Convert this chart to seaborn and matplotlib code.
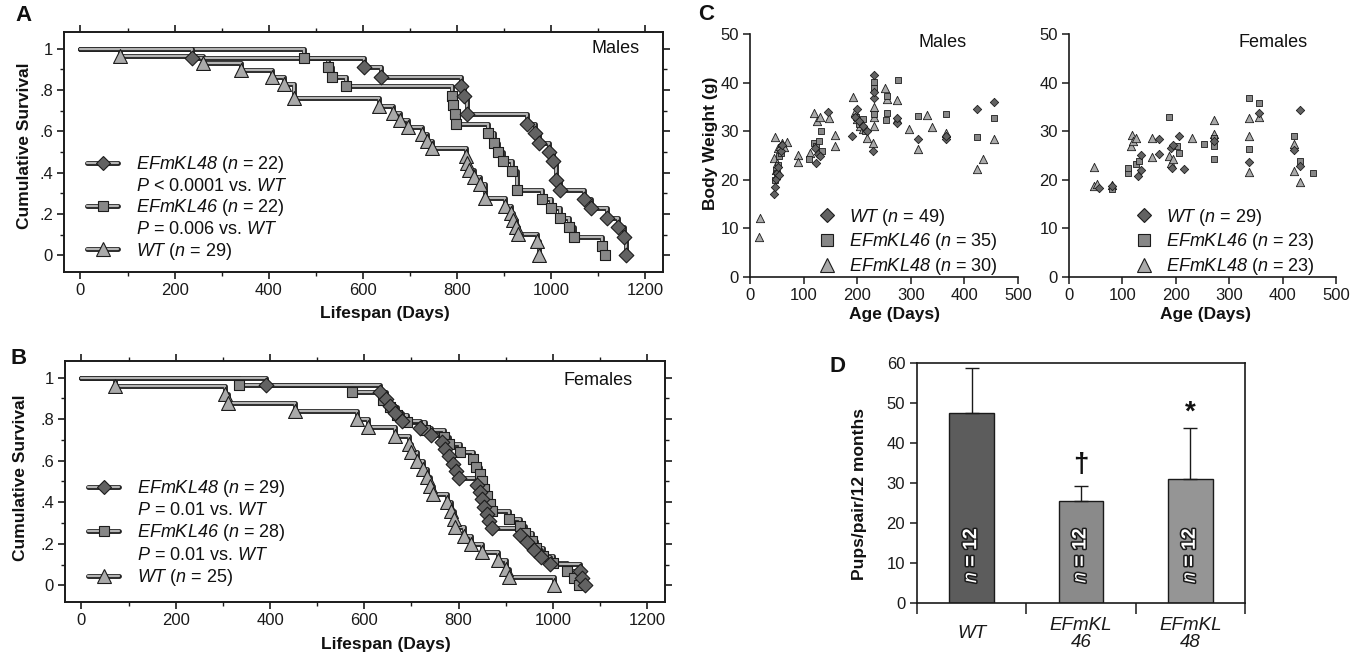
import matplotlib
matplotlib.use('Agg')
import matplotlib.pyplot as plt
import matplotlib.patheffects as pe
from matplotlib.lines import Line2D
from matplotlib.ticker import MultipleLocator, FuncFormatter
from matplotlib import font_manager
import pandas as pd
import seaborn as sns

# ---- A: males, Kaplan-Meier (death day, survival after the drop)
a_kl48_t = [237, 602, 638, 808, 815, 822, 950, 965, 975, 995, 1005, 1010, 1020, 1070, 1086, 1120, 1143, 1156, 1160]
a_kl48_s = [.955, .909, .864, .818, .773, .682, .636, .591, .545, .500, .455, .364, .318, .273, .227, .182, .136, .091, 0]
a_kl46_t = [475, 527, 535, 565, 789, 792, 795, 799, 866, 878, 887, 898, 917, 928, 980, 1001, 1020, 1039, 1048, 1108, 1115]
a_kl46_s = [.955, .909, .864, .818, .773, .727, .682, .636, .591, .545, .500, .455, .409, .318, .273, .227, .182, .136, .091, .045, 0]
a_wt_t = [85, 261, 342, 408, 432, 453, 634, 664, 678, 695, 725, 737, 747, 820, 822, 826, 836, 849, 859, 902, 915, 920, 925, 930, 970, 975]
a_wt_s = [.966, .931, .897, .862, .828, .759, .724, .690, .655, .621, .586, .552, .517, .483, .448, .414, .379, .345, .276, .241, .207, .172, .138, .103, .069, 0]

# ---- B: females
b_kl48_t = [392, 634, 645, 655, 665, 680, 718, 742, 764, 772, 780, 788, 795, 800, 840, 845, 850, 855, 860, 865, 870, 930, 945, 960, 975, 995, 1058, 1062, 1068]
b_kl48_s = [.966, .931, .897, .862, .828, .793, .759, .724, .690, .655, .621, .586, .552, .517, .483, .448, .414, .379, .345, .310, .276, .241, .207, .172, .138, .103, .069, .034, 0]
b_kl46_t = [335, 573, 640, 655, 670, 690, 728, 770, 780, 803, 831, 838, 845, 850, 855, 860, 866, 870, 906, 930, 940, 955, 965, 980, 1000, 1030, 1045, 1055]
b_kl46_s = [.964, .929, .893, .857, .821, .786, .750, .714, .679, .643, .607, .571, .536, .500, .464, .429, .393, .357, .321, .286, .250, .214, .179, .143, .107, .071, .036, 0]
b_wt_t = [71, 305, 310, 452, 584, 608, 665, 695, 700, 712, 725, 732, 740, 746, 775, 785, 790, 792, 811, 826, 849, 883, 901, 906, 1003]
b_wt_s = [.96, .92, .88, .84, .80, .76, .72, .68, .64, .60, .56, .52, .48, .44, .40, .36, .32, .28, .24, .20, .16, .12, .08, .04, 0]

# ---- C: body weight vs age
cm_wt_age = [45, 47, 49, 50, 52, 54, 57, 60, 121, 124, 127, 130, 146, 190, 196, 200, 204, 210, 218, 229, 232, 232, 232, 275, 275, 313, 366, 366, 423, 455]
cm_wt_g = [17.0, 18.6, 20.2, 21.4, 22.6, 21.0, 26.0, 27.2, 26.5, 23.4, 25.4, 24.8, 34.0, 29.0, 33.0, 34.5, 32.0, 31.0, 30.0, 26.0, 41.5, 36.8, 38.0, 31.6, 32.8, 28.4, 28.3, 29.0, 34.6, 36.0]
cm_46_age = [46, 48, 50, 53, 55, 58, 110, 120, 124, 128, 132, 135, 198, 204, 210, 215, 232, 232, 232, 255, 255, 254, 276, 313, 366, 423, 455]
cm_46_g = [20.0, 22.0, 21.5, 23.0, 25.0, 25.5, 24.3, 27.5, 27.0, 28.0, 30.0, 26.0, 33.0, 31.5, 32.5, 30.0, 40.2, 38.8, 33.5, 37.3, 33.8, 32.3, 40.5, 33.2, 33.6, 28.9, 32.7]
cm_48_age = [19, 16, 44, 47, 48, 51, 53, 56, 60, 64, 69, 89, 89, 111, 120, 125, 130, 147, 158, 158, 192, 195, 200, 205, 210, 218, 229, 232, 232, 232, 252, 255, 275, 275, 296, 313, 330, 339, 366, 423, 435, 455]
cm_48_g = [12.1, 8.2, 24.5, 28.8, 22.0, 23.5, 26.5, 27.0, 27.5, 26.8, 27.8, 25.1, 23.7, 25.6, 33.8, 32.0, 33.0, 32.7, 29.3, 26.9, 37.1, 34.0, 32.5, 31.0, 30.5, 28.5, 27.6, 33.0, 31.0, 35.0, 38.9, 36.6, 36.4, 32.6, 30.5, 26.3, 33.3, 30.8, 29.7, 22.2, 24.3, 28.4]
cf_wt_age = [56, 80, 129, 135, 135, 169, 169, 191, 193, 195, 206, 216, 272, 337, 356, 421, 433, 433]
cf_wt_g = [18.4, 18.8, 20.8, 22.0, 25.2, 25.4, 28.3, 26.6, 22.5, 27.2, 29.0, 22.3, 27.9, 23.7, 33.7, 26.2, 34.4, 22.8]
cf_46_age = [80, 110, 111, 125, 131, 188, 203, 206, 252, 272, 272, 272, 337, 337, 356, 421, 433, 456]
cf_46_g = [18.1, 21.5, 22.5, 23.2, 23.9, 33.0, 26.9, 25.6, 27.3, 26.9, 24.2, 28.5, 36.9, 26.4, 35.7, 29.0, 23.9, 21.3]
cf_48_age = [46, 46, 53, 80, 116, 118, 120, 125, 155, 155, 188, 191, 194, 230, 272, 272, 337, 337, 337, 356, 421, 421, 433]
cf_48_g = [22.7, 18.8, 19.1, 19.0, 26.9, 29.3, 28.0, 28.6, 24.7, 28.6, 24.9, 23.5, 24.2, 28.5, 32.3, 29.5, 32.8, 29.0, 21.7, 33.0, 27.3, 21.8, 19.5]

# ---- D: pups per pair
d_groups = ['WT', 'EFmKL46', 'EFmKL48']
d_labels = ['WT', 'EFmKL\n46', 'EFmKL\n48']
d_mean = [47.4, 25.6, 31.0]
d_err = [11.3, 3.6, 12.7]
d_marks = ['', '\u2020', '*']
d_mark_y = [0, 34.5, 47.5]

sns.set_theme(style='ticks')
installed = {f.name for f in font_manager.fontManager.ttflist}
NARROW = 'Liberation Sans Narrow' if 'Liberation Sans Narrow' in installed else 'Liberation Sans'
REG = ['Liberation Sans', 'DejaVu Sans']
plt.rcParams['font.family'] = [NARROW, 'DejaVu Sans']
plt.rcParams.update({
    'mathtext.fontset': 'custom', 'mathtext.rm': NARROW,
    'mathtext.it': NARROW + ':italic', 'mathtext.bf': NARROW + ':bold',
    'mathtext.sf': NARROW + ':italic',
    'axes.edgecolor': '#1a1a1a', 'xtick.color': '#1a1a1a', 'ytick.color': '#1a1a1a',
    'text.color': '#111111', 'axes.labelcolor': '#111111',
})

LINE_FILL = '#b4b4b4'
LINE_EDGE = '#222222'
EDGE = '#1c1c1c'
C_DIA = '#626262'
C_SQ = '#878787'
C_TRI = '#aaaaaa'
KM_PE = [pe.Stroke(linewidth=3.5, foreground=LINE_EDGE), pe.Normal()]


def it(s):
    # italic run (digits too) through the sans-serif mathtext slot
    return r'$\mathsf{%s}$' % s


def km_curve(ax, t, s, marker, color, size):
    sns.lineplot(x=[0] + t, y=[1.0] + s, ax=ax, estimator=None, sort=False,
                 drawstyle='steps-post', color=LINE_FILL, linewidth=1.6,
                 path_effects=KM_PE, zorder=2)
    sns.scatterplot(x=t, y=s, ax=ax, marker=marker, color=color, edgecolor=EDGE,
                    linewidth=0.8, s=size, zorder=3)


def surv_fmt(v, pos):
    if abs(v) < 1e-9:
        return '0'
    if abs(v - 1) < 1e-9:
        return '1'
    return f'{v:.1f}'.lstrip('0')


def km_handle(marker, color, ms):
    ln = Line2D([], [], color=LINE_FILL, lw=1.6, path_effects=KM_PE)
    mk = Line2D([], [], ls='none', marker=marker, markersize=ms, markerfacecolor=color,
                markeredgecolor=EDGE, markeredgewidth=0.8)
    return (ln, mk)


def style_km(ax, ylab_x, ylab_y, xlab_y):
    ax.set_xlim(-35, 1238)
    ax.set_ylim(-0.08, 1.08)
    ax.xaxis.set_major_locator(MultipleLocator(200))
    ax.xaxis.set_minor_locator(MultipleLocator(100))
    ax.yaxis.set_major_locator(MultipleLocator(0.2))
    ax.yaxis.set_minor_locator(MultipleLocator(0.1))
    ax.yaxis.set_major_formatter(FuncFormatter(surv_fmt))
    ax.tick_params(which='both', direction='out', top=True, right=True)
    ax.tick_params(which='major', length=5, width=1.2, labelsize=12, pad=3)
    ax.tick_params(which='minor', length=3, width=1.0)
    for sp in ax.spines.values():
        sp.set_linewidth(1.4)
    ax.set_xlabel('Lifespan (Days)', fontsize=12.5, fontweight='bold', family=REG, va='center')
    ax.set_ylabel('Cumulative Survival', fontsize=12.5, fontweight='bold', family=REG, va='center')
    ax.xaxis.set_label_coords(0.535, xlab_y)
    ax.yaxis.set_label_coords(ylab_x, ylab_y)


fig = plt.figure(figsize=(13.63, 6.55), dpi=100)
fig.patch.set_facecolor('white')

blank = Line2D([], [], ls='none')

# ---------------- A
axA = fig.add_axes([0.04696, 0.58473, 0.43947, 0.36641])
km_curve(axA, a_wt_t, a_wt_s, '^', C_TRI, 100)
km_curve(axA, a_kl46_t, a_kl46_s, 's', C_SQ, 48)
km_curve(axA, a_kl48_t, a_kl48_s, 'D', C_DIA, 56)
style_km(axA, -0.066, 0.525, -0.171)
axA.text(0.92, 0.93, 'Males', transform=axA.transAxes, ha='center', va='center',
         fontsize=13, family=REG)
axA.legend([km_handle('D', C_DIA, 7.5), blank, km_handle('s', C_SQ, 7), blank, km_handle('^', C_TRI, 10)],
           [it('EFmKL48') + ' (' + it('n') + ' = 22)', it('P') + ' < 0.0001 vs. ' + it('WT'),
            it('EFmKL46') + ' (' + it('n') + ' = 22)', it('P') + ' = 0.006 vs. ' + it('WT'),
            it('WT') + ' (' + it('n') + ' = 29)'],
           loc='upper left', bbox_to_anchor=(0.038, 0.49), frameon=False, fontsize=13,
           handlelength=1.75, handletextpad=1.0, labelspacing=0.14, borderpad=0, borderaxespad=0)

# ---------------- B
axB = fig.add_axes([0.04769, 0.08092, 0.44021, 0.36794])
km_curve(axB, b_wt_t, b_wt_s, '^', C_TRI, 100)
km_curve(axB, b_kl46_t, b_kl46_s, 's', C_SQ, 48)
km_curve(axB, b_kl48_t, b_kl48_s, 'D', C_DIA, 56)
style_km(axB, -0.075, 0.517, -0.178)
axB.text(0.888, 0.917, 'Females', transform=axB.transAxes, ha='center', va='center',
         fontsize=13, family=REG)
axB.legend([km_handle('D', C_DIA, 7.5), blank, km_handle('s', C_SQ, 7), blank, km_handle('^', C_TRI, 10)],
           [it('EFmKL48') + ' (' + it('n') + ' = 29)', it('P') + ' = 0.01 vs. ' + it('WT'),
            it('EFmKL46') + ' (' + it('n') + ' = 28)', it('P') + ' = 0.01 vs. ' + it('WT'),
            it('WT') + ' (' + it('n') + ' = 25)'],
           loc='upper left', bbox_to_anchor=(0.038, 0.515), frameon=False, fontsize=13,
           handlelength=1.75, handletextpad=1.0, labelspacing=0.18, borderpad=0, borderaxespad=0)


# ---------------- C
def weight_panel(ax, wt, k46, k48, ns, title, legx, xlab_x, ylabel):
    sns.scatterplot(x=k48[0], y=k48[1], ax=ax, marker='^', color=C_TRI, edgecolor=EDGE,
                    linewidth=0.6, s=36, zorder=3)
    sns.scatterplot(x=k46[0], y=k46[1], ax=ax, marker='s', color=C_SQ, edgecolor=EDGE,
                    linewidth=0.6, s=14, zorder=3)
    sns.scatterplot(x=wt[0], y=wt[1], ax=ax, marker='D', color=C_DIA, edgecolor=EDGE,
                    linewidth=0.6, s=18, zorder=3)
    ax.set_xlim(0, 500)
    ax.set_ylim(0, 50)
    ax.xaxis.set_major_locator(MultipleLocator(100))
    ax.yaxis.set_major_locator(MultipleLocator(10))
    sns.despine(ax=ax)
    for sp in ('left', 'bottom'):
        ax.spines[sp].set_linewidth(1.2)
    ax.tick_params(direction='out', length=5, width=1.1, labelsize=12, pad=3)
    for lb in ax.get_xticklabels() + ax.get_yticklabels():
        lb.set_family(REG)
    ax.set_xlabel('Age (Days)', fontsize=12.5, fontweight='bold', family=REG, va='center')
    ax.xaxis.set_label_coords(xlab_x, -0.156)
    if ylabel:
        ax.set_ylabel('Body Weight (g)', fontsize=12.5, fontweight='bold', family=REG, va='center')
        ax.yaxis.set_label_coords(-0.147, 0.55)
    else:
        ax.set_ylabel('')
    ax.text(0.72 if ylabel else 0.764, 0.963, title, transform=ax.transAxes, ha='center',
            va='center', fontsize=13, family=REG)
    handles = [Line2D([], [], ls='none', marker='D', markersize=7, markerfacecolor=C_DIA,
                      markeredgecolor=EDGE, markeredgewidth=0.8),
               Line2D([], [], ls='none', marker='s', markersize=8, markerfacecolor=C_SQ,
                      markeredgecolor=EDGE, markeredgewidth=0.8),
               Line2D([], [], ls='none', marker='^', markersize=10, markerfacecolor=C_TRI,
                      markeredgecolor=EDGE, markeredgewidth=0.8)]
    labels = [it('WT') + ' (' + it('n') + ' = %d)' % ns[0],
              it('EFmKL46') + ' (' + it('n') + ' = %d)' % ns[1],
              it('EFmKL48') + ' (' + it('n') + ' = %d)' % ns[2]]
    ax.legend(handles, labels, loc='lower left', bbox_to_anchor=(legx, 0.0), frameon=False,
              fontsize=13, handlelength=1.0, handletextpad=0.7, labelspacing=0.2,
              borderpad=0, borderaxespad=0)


axCm = fig.add_axes([0.55026, 0.57710, 0.19663, 0.37099])
weight_panel(axCm, (cm_wt_age, cm_wt_g), (cm_46_age, cm_46_g), (cm_48_age, cm_48_g),
             (49, 35, 30), 'Males', 0.254, 0.54, True)
axCf = fig.add_axes([0.78430, 0.57710, 0.19589, 0.37099])
weight_panel(axCf, (cf_wt_age, cf_wt_g), (cf_46_age, cf_46_g), (cf_48_age, cf_48_g),
             (29, 23, 23), 'Females', 0.247, 0.51, False)

# ---------------- D
axD = fig.add_axes([0.67278, 0.07939, 0.24064, 0.36641])
sns.barplot(x=d_groups, y=d_mean, hue=d_groups, palette=['#5c5c5c', '#8a8a8a', '#959595'],
            legend=False, errorbar=None, width=0.41, edgecolor='#1a1a1a', linewidth=1.0, ax=axD)
axD.errorbar(range(len(d_groups)), d_mean, yerr=[[0] * len(d_err), d_err], fmt='none',
             ecolor='#1a1a1a', elinewidth=1.0, capsize=5, capthick=1.0, zorder=1)
axD.set_xlim(-0.5, 2.5)
axD.set_ylim(0, 60)
axD.yaxis.set_major_locator(MultipleLocator(10))
axD.set_xticks(range(len(d_groups)))
axD.set_xticklabels(d_labels, fontstyle='italic', fontsize=13.5, family=REG, linespacing=1.0)
for lb in axD.get_xticklabels():
    lb.set_va('center')
axD.set_xticks([-0.5, 0.5, 1.5, 2.5], minor=True)
axD.tick_params(axis='x', which='major', length=0, pad=22)
axD.tick_params(axis='x', which='minor', direction='out', length=8, width=1.1)
axD.tick_params(axis='y', direction='out', length=5, width=1.1, labelsize=12)
for lb in axD.get_yticklabels():
    lb.set_family(REG)
for sp in axD.spines.values():
    sp.set_linewidth(1.2)
axD.set_xlabel('')
axD.set_ylabel('Pups/pair/12 months', fontsize=12.5, fontweight='bold', family=REG, va='center')
axD.yaxis.set_label_coords(-0.175, 0.454)
for i in range(len(d_groups)):
    axD.text(i, 12, it('n') + ' = 12', rotation=90, ha='center', va='center', color='white',
             fontsize=14, fontweight='bold', family=REG,
             path_effects=[pe.Stroke(linewidth=2.2, foreground='#1a1a1a'), pe.Normal()])
    if d_marks[i]:
        axD.text(i, d_mark_y[i], d_marks[i], ha='center', va='center', fontsize=20,
                 fontweight='bold', family=REG)

# panel letters
for lab, x, y in [('A', 0.0176, 0.977), ('B', 0.0139, 0.4534), ('C', 0.518, 0.9786), ('D', 0.6148, 0.4412)]:
    fig.text(x, y, lab, ha='center', va='center', fontsize=16, fontweight='bold')

fig.savefig('out.png', dpi=100, facecolor='white')
